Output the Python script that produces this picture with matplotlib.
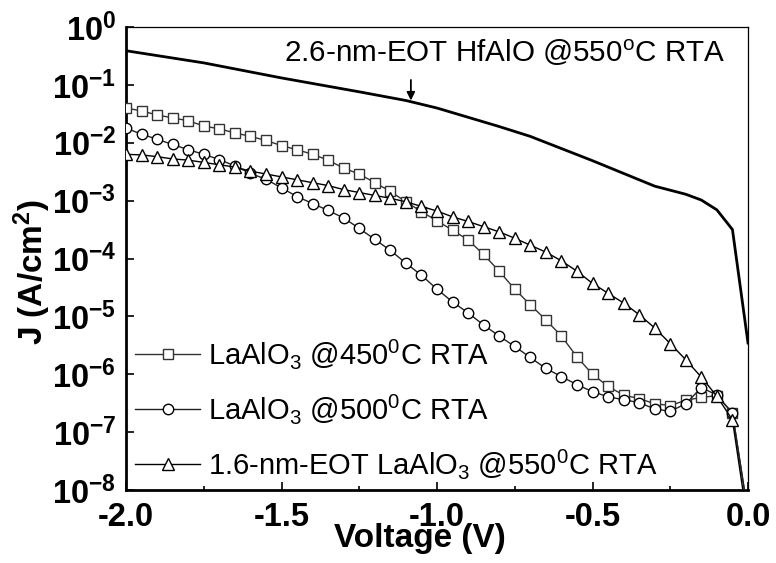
import numpy as np
import matplotlib
matplotlib.use("Agg")
import matplotlib.pyplot as plt
from matplotlib.ticker import FixedLocator, NullLocator

plt.rcParams['font.family'] = ['Liberation Sans', 'DejaVu Sans']
plt.rcParams['mathtext.fontset'] = 'custom'
plt.rcParams['mathtext.rm'] = 'Liberation Sans'
plt.rcParams['mathtext.it'] = 'Liberation Sans'
plt.rcParams['mathtext.bf'] = 'Liberation Sans:bold'
plt.rcParams['axes.unicode_minus'] = False

# ---- data (log10 of J in A/cm^2) ----
voltage = np.round(np.arange(-2.0, 0.0001, 0.05), 2)

log_j_450 = [-1.40, -1.45, -1.52, -1.57, -1.62, -1.71, -1.76, -1.83, -1.89, -1.96,
             -2.05, -2.12, -2.20, -2.30, -2.44, -2.54, -2.69, -2.84, -3.02, -3.19,
             -3.35, -3.51, -3.68, -3.93, -4.22, -4.53, -4.80, -5.06, -5.34, -5.70,
             -6.00, -6.21, -6.36, -6.42, -6.51, -6.54, -6.45, -6.40, -6.37, -6.67,
             -8.40]
log_j_500 = [-1.75, -1.85, -1.94, -2.03, -2.12, -2.20, -2.29, -2.40, -2.53, -2.63,
             -2.78, -2.93, -3.05, -3.17, -3.30, -3.48, -3.67, -3.86, -4.08, -4.29,
             -4.53, -4.75, -4.94, -5.15, -5.34, -5.52, -5.71, -5.90, -6.04, -6.18,
             -6.30, -6.39, -6.44, -6.49, -6.60, -6.64, -6.51, -6.23, -6.36, -6.67,
             -8.40]
log_j_550 = [-2.20, -2.21, -2.24, -2.28, -2.30, -2.34, -2.38, -2.42, -2.49, -2.54,
             -2.59, -2.64, -2.69, -2.74, -2.81, -2.86, -2.91, -2.96, -3.02, -3.10,
             -3.18, -3.28, -3.36, -3.45, -3.54, -3.65, -3.77, -3.89, -4.04, -4.22,
             -4.43, -4.60, -4.77, -4.97, -5.20, -5.47, -5.75, -6.05, -6.38, -6.79,
             -8.60]

hf_voltage = [-2.00, -1.75, -1.50, -1.25, -1.10, -1.00, -0.90, -0.80, -0.70,
              -0.60, -0.50, -0.40, -0.30, -0.20, -0.15, -0.10, -0.05, 0.00]
hf_log_j = [-0.41, -0.62, -0.88, -1.12, -1.27, -1.40, -1.56, -1.72, -1.89,
            -2.10, -2.31, -2.53, -2.75, -2.89, -2.99, -3.16, -3.50, -5.46]

labels = [r'LaAlO$_3$ @450$^0$C RTA',
          r'LaAlO$_3$ @500$^0$C RTA',
          r'1.6-nm-EOT LaAlO$_3$ @550$^0$C RTA']
hf_label = r'2.6-nm-EOT HfAlO @550$^{\rm o}$C RTA'

x_ticks = [-2.0, -1.5, -1.0, -0.5, 0.0]
x_tick_labels = ['-2.0', '-1.5', '-1.0', '-0.5', '0.0']
y_exps = [0, -1, -2, -3, -4, -5, -6, -7, -8]

# ---- figure ----
W, H = 776, 563
fig = plt.figure(figsize=(W / 100, H / 100), dpi=100)
ax = fig.add_axes([126 / W, 1 - 490 / H, (748 - 126) / W, (490 - 27) / H])

J = lambda a: 10.0 ** np.asarray(a)

ax.plot(voltage, J(log_j_450), color='#333333', lw=1.0, marker='s', ms=7,
        mfc='white', mec='#333333', mew=1.0, label=labels[0], zorder=3)
ax.plot(voltage, J(log_j_500), color='#222222', lw=1.0, marker='o', ms=7.5,
        mfc='white', mec='black', mew=1.0, label=labels[1], zorder=3)
ax.plot(voltage, J(log_j_550), color='black', lw=1.0, marker='^', ms=8.5,
        mfc='white', mec='black', mew=1.0, label=labels[2], zorder=3)
ax.plot(hf_voltage, J(hf_log_j), color='black', lw=2.0, zorder=4)

ax.set_yscale('log')
ax.set_xlim(-2.0, 0.0)
ax.set_ylim(1e-8, 1e0)

ax.xaxis.set_major_locator(FixedLocator(x_ticks))
ax.xaxis.set_minor_locator(FixedLocator([-1.75, -1.25, -0.75, -0.25]))
ax.set_xticklabels(x_tick_labels, fontsize=23.5, fontweight='bold')
ax.yaxis.set_major_locator(FixedLocator([10.0 ** e for e in y_exps]))
ax.yaxis.set_minor_locator(NullLocator())
ax.set_yticklabels([r'$\mathbf{10^{%d}}$' % e for e in y_exps], fontsize=23.5)

ax.tick_params(axis='both', which='both', direction='in')
ax.tick_params(axis='x', which='major', length=6, width=1.2, pad=9)
ax.tick_params(axis='x', which='minor', length=3, width=1.2)
ax.tick_params(axis='y', which='major', length=6, width=1.2, pad=7)

for s in ['left', 'bottom']:
    ax.spines[s].set_linewidth(2.0)
for s in ['top', 'right']:
    ax.spines[s].set_linewidth(0.9)

# axis labels
fig.text(420 / W, 1 - 547 / H, 'Voltage (V)', fontsize=24, fontweight='bold',
         ha='center', va='baseline')
fig.text(32 / W, 1 - 272 / H, r'J (A/cm$^\mathbf{2}$)', fontsize=24,
         fontweight='bold', rotation=90, ha='center', va='center')

# annotation
ax.annotate('', xy=(-1.084, 10 ** -1.27), xytext=(-1.084, 10 ** -0.915),
            arrowprops=dict(arrowstyle='-|>', color='black', lw=1.3,
                            mutation_scale=12, shrinkA=0, shrinkB=0))
ax.text(-1.492, 10 ** -0.604, hf_label, fontsize=21.3, ha='left', va='baseline')

leg = ax.legend(loc='lower left', bbox_to_anchor=(0.0, 0.0), frameon=False,
                fontsize=21, handlelength=2.25, handletextpad=0.25,
                labelspacing=0.72, borderaxespad=0.2, borderpad=0.1)

fig.savefig('out.png', dpi=100)
